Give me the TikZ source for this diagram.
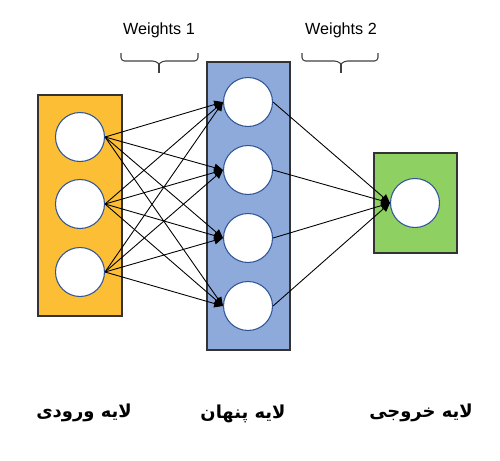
\documentclass[tikz,border=0pt]{standalone}
\usepackage{fontspec}
\setmainfont{Liberation Sans}
\newfontfamily\arabicfont[Script=Arabic]{DejaVu Sans}
\TeXXeTstate=1
\usepackage{tikz}
\usetikzlibrary{arrows.meta,positioning,calc}
\definecolor{inorange}{RGB}{251,190,52}
\definecolor{hidblue}{RGB}{142,170,219}
\definecolor{outgreen}{RGB}{142,208,98}
\definecolor{ringblue}{RGB}{47,85,151}

\begin{document}
\begin{tikzpicture}[x=0.02cm,y=-0.02cm,
    layerbox/.style={draw=black!80, line width=0.6pt},
    neuron/.style={circle, draw=ringblue, fill=white, line width=0.6pt,
      minimum size=0.98cm, inner sep=0pt},
    link/.style={-{Triangle[length=5pt,width=4.5pt]}, line width=0.5pt},
    wbrace/.style={draw=black!75, line width=0.6pt, rounded corners=2pt},
    layername/.style={font=\arabicfont\bfseries\fontsize{10.2pt}{12pt}\selectfont}]
  \useasboundingbox (0,0) rectangle (500,460);
  % Layer boxes
  \draw[layerbox, fill=inorange] (38,95) rectangle (122,316);
  \draw[layerbox, fill=hidblue] (207,62) rectangle (290,350);
  \draw[layerbox, fill=outgreen] (374,153) rectangle (457,253);
  % Neurons
  \foreach \i/\y in {1/137,2/204,3/272}
    \node[neuron] (in\i) at (80,\y) {};
  \foreach \j/\y in {1/102,2/170,3/238,4/306}
    \node[neuron] (hid\j) at (248,\y) {};
  \node[neuron] (out1) at (415,203) {};
  % Connections
  \foreach \i in {1,2,3}
    \foreach \j in {1,2,3,4}
      \draw[link] (in\i.east) -- (hid\j.west);
  \foreach \j in {1,2,3,4}
    \draw[link] (hid\j.east) -- (out1.west);
  % Weight braces
  \foreach \n/\l/\m/\r in {1/121/159/198, 2/302/341/378} {
    \coordinate (tip\n) at (\m,73);
    \draw[wbrace] (\l,53) -- (\l,61) -- (\m-3,61) -- (\m,64);
    \draw[wbrace] (\r,53) -- (\r,61) -- (\m+3,61) -- (\m,64);
    \draw[draw=black!75, line width=0.6pt] (\m,63) -- (tip\n);
  }
  \node[font=\fontsize{9.2pt}{11pt}\selectfont] (w1) at (159,30) {Weights 1};
  \node[font=\fontsize{9.2pt}{11pt}\selectfont] (w2) at (341,30) {Weights 2};
  % Layer names
  \node[layername] (lin) at (84,413) {\beginR لایه ورودی\endR};
  \node[layername] (lhid) at (243,414) {\beginR لایه پنهان\endR};
  \node[layername] (lout) at (421,413) {\beginR لایه خروجی\endR};
\end{tikzpicture}
\end{document}
